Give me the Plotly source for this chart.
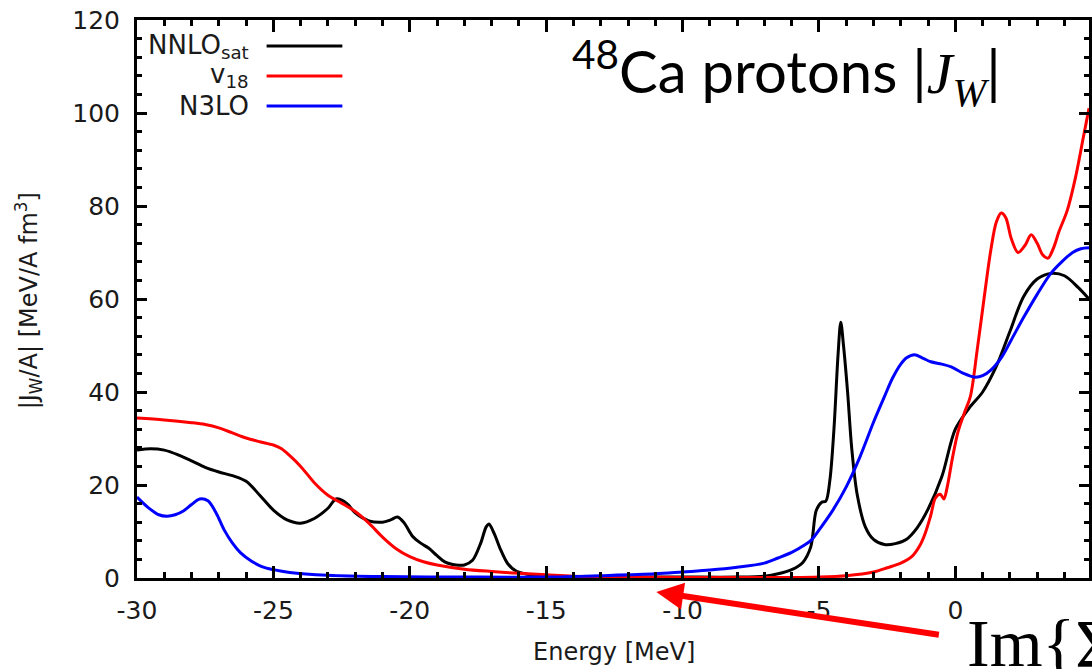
import plotly.graph_objects as go

# ---------------- data ----------------
series_names = ["NNLO<sub>sat</sub>", "v<sub>18</sub>", "N3LO"]
series_colors = ["#000000", "#ff0000", "#0000ff"]

nnlo_x = [-30, -29.5, -29, -28.5, -28, -27.5, -27, -26.5, -26, -25.5, -25, -24.5, -24,
          -23.5, -23, -22.7, -22.3, -22, -21.5, -21, -20.7, -20.45, -20.2, -19.9, -19.6,
          -19.3, -19, -18.7, -18.3, -18, -17.7, -17.4, -17.2, -17.1, -16.9, -16.7, -16.4,
          -16.1, -15.7, -15, -14, -12, -10, -8, -7, -6.5, -6, -5.6, -5.3, -5.1, -4.9,
          -4.75, -4.6, -4.45, -4.3, -4.2, -4.1, -3.95, -3.8, -3.6, -3.3, -3, -2.6, -2.2,
          -1.8, -1.4, -1, -0.5, 0, 0.5, 1, 1.5, 2, 2.5, 3, 3.5, 4, 4.5, 4.9]
nnlo_y = [27.5, 27.8, 27.5, 26.5, 25.2, 23.8, 22.8, 22.0, 20.8, 17.8, 14.6, 12.5, 11.8,
          12.8, 15.0, 17.0, 16.0, 14.0, 12.3, 12.0, 12.5, 13.1, 11.8, 9.0, 7.5,
          6.4, 4.8, 3.4, 2.8, 2.8, 3.8, 7.5, 11.0, 11.6, 9.5, 6.5, 3.0,
          1.5, 0.8, 0.4, 0.3, 0.2, 0.2, 0.2, 0.4, 0.9, 1.8, 3.3, 6.7, 14.5, 16.3,
          16.5, 21.0, 32.0, 48.0, 55.0, 50.0, 40.0, 28.0, 18.0, 11.0, 8.3, 7.2, 7.4,
          8.3, 10.8, 14.8, 21.7, 32.0, 36.5, 40.0, 45.5, 53.0, 60.5, 64.3, 65.5, 65.0, 62.5, 60.0]

v18_x = [-30, -29, -28, -27.5, -27, -26.5, -26, -25.5, -25, -24.7, -24.4, -24, -23.5, -23,
         -22.5, -22, -21.5, -21, -20.5, -20, -19.5, -19, -18, -17, -16, -15, -14, -12, -10,
         -8, -6, -5, -4, -3, -2.5, -2, -1.6, -1.3, -1.1, -0.9, -0.73, -0.55, -0.42, -0.3,
         -0.1, 0.1, 0.33, 0.55, 0.8, 1.05, 1.3, 1.5, 1.68, 1.85, 2.05, 2.3, 2.55, 2.78, 3.0,
         3.2, 3.4, 3.6, 3.8, 4.1, 4.4, 4.7, 4.9]
v18_y = [34.4, 34.0, 33.4, 33.0, 32.3, 31.2, 30.1, 29.3, 28.6, 27.8, 26.3, 24.0, 20.5, 17.8,
         16.1, 14.3, 11.8, 8.8, 6.3, 4.6, 3.5, 2.8, 1.9, 1.4, 1.0, 0.7, 0.4, 0.2, 0.1,
         0.1, 0.1, 0.2, 0.5, 1.3, 2.2, 3.2, 4.6, 7.0, 9.7, 13.5, 17.2, 18.0, 17.0, 19.5,
         26.0, 31.5, 35.5, 39.0, 49.0, 60.0, 70.5, 76.5, 78.5, 77.5, 73.0, 70.0, 71.5, 73.8, 72.0,
         69.5, 68.8, 71.0, 74.5, 79.0, 86.0, 95.0, 101.0]

n3lo_x = [-30, -29.6, -29.2, -28.9, -28.6, -28.3, -28, -27.7, -27.4, -27.1, -26.8, -26.5,
          -26.2, -25.8, -25.4, -25, -24.4, -23, -21, -18, -15, -13, -11, -10, -9, -8, -7,
          -6.5, -6, -5.5, -5.27, -5, -4.5, -4, -3.5, -3, -2.6, -2.3, -2, -1.8, -1.5, -1.2,
          -0.9, -0.5, -0.15, 0.3, 0.7, 1, 1.3, 1.7, 2.05, 2.5, 3, 3.5, 3.9, 4.3, 4.6, 4.9]
n3lo_y = [17.4, 15.2, 13.6, 13.3, 13.6, 14.4, 15.8, 17.0, 16.6, 14.0, 10.3, 7.5,
          5.4, 3.6, 2.4, 1.8, 1.2, 0.6, 0.3, 0.2, 0.2, 0.5, 0.9, 1.3, 1.7, 2.3, 3.2,
          4.3, 5.5, 7.2, 8.2, 10.3, 14.5, 19.6, 26.0, 33.5, 39.0, 43.0, 46.0, 47.3, 48.0, 47.3,
          46.5, 46.0, 45.4, 44.0, 43.2, 43.5, 44.7, 47.5, 51.2, 56.0, 61.0, 65.5, 68.0, 70.0, 70.8, 71.0]

x_tick_vals = [-30, -25, -20, -15, -10, -5, 0, 5]
x_tick_text = ["-30", "-25", "-20", "-15", "-10", "-5", "0", "5"]
y_tick_vals = [0, 20, 40, 60, 80, 100, 120]
y_tick_text = ["0", "20", "40", "60", "80", "100", "120"]

x_title = "Energy [MeV]"
y_title = "|J<sub>W</sub>/A| [MeV/A fm<sup>3</sup>]"
panel_title = ("<sup>48</sup>Ca protons |<span style='font-family:Liberation Serif'>"
               "<i>J<sub>W</sub></i></span>|")
im_label = "Im{Σ}"

# ---------------- figure ----------------
W, H = 1092, 669
L, R, T, B = 137, 0, 20, 91
PW, PH = W - L - R, H - T - B


def px(xp):
    return (xp - L) / PW


def py(yp):
    return (H - B - yp) / PH


fig = go.Figure()
all_x = [nnlo_x, v18_x, n3lo_x]
all_y = [nnlo_y, v18_y, n3lo_y]
for name, col, xs, ys in zip(series_names, series_colors, all_x, all_y):
    fig.add_trace(go.Scatter(x=xs, y=ys, mode="lines", name=name,
                             line=dict(color=col, width=3, shape="spline", smoothing=0.9),
                             showlegend=False))

tickfont = dict(family="DejaVu Sans", size=25, color="#1a1a1a")
axis_common = dict(showline=True, linewidth=3, linecolor="black", mirror="allticks",
                   ticks="inside", tickwidth=3, tickcolor="black", showgrid=False,
                   zeroline=False, tickfont=tickfont)

fig.update_xaxes(range=[-30, 4.9], tickvals=x_tick_vals, ticktext=x_tick_text,
                 ticklen=12, ticklabelstandoff=8,
                 minor=dict(dtick=1, tick0=-30, ticklen=6, tickwidth=3, tickcolor="black",
                            ticks="inside", showgrid=False),
                 **axis_common)
fig.update_yaxes(range=[0, 120], tickvals=y_tick_vals, ticktext=y_tick_text,
                 ticklen=10, ticklabelstandoff=9,
                 minor=dict(dtick=4, tick0=0, ticklen=5, tickwidth=3, tickcolor="black",
                            ticks="inside", showgrid=False),
                 **axis_common)

annotations = []
# axis titles
annotations.append(dict(text=x_title, xref="paper", yref="paper", x=px(616), y=py(652),
                        xanchor="center", yanchor="middle", showarrow=False,
                        font=dict(family="DejaVu Sans", size=24, color="#1a1a1a")))
annotations.append(dict(text=y_title, xref="paper", yref="paper", x=px(29), y=py(301),
                        xanchor="center", yanchor="middle", showarrow=False, textangle=-90,
                        font=dict(family="DejaVu Sans", size=24, color="#1a1a1a")))
# legend (text right-aligned, sample line to the right)
leg_y = [46, 76, 106]
for name, col, yy in zip(series_names, series_colors, leg_y):
    annotations.append(dict(text=name, xref="paper", yref="paper", x=px(251), y=py(yy),
                            xanchor="right", yanchor="middle", showarrow=False,
                            font=dict(family="DejaVu Sans", size=26, color="#1a1a1a")))
    fig.add_shape(type="line", xref="paper", yref="paper", x0=px(267), x1=px(343),
                  y0=py(yy), y1=py(yy), line=dict(color=col, width=3))
# panel title
annotations.append(dict(text=panel_title, xref="paper", yref="paper", x=px(571), y=py(72),
                        xanchor="left", yanchor="middle", showarrow=False,
                        font=dict(family="Lato", size=58, color="black")))
# Im{Σ} label
annotations.append(dict(text=im_label, xref="paper", yref="paper", x=px(968), y=py(643),
                        xanchor="left", yanchor="middle", showarrow=False,
                        font=dict(family="Liberation Serif", size=68, color="black")))
# red arrow
annotations.append(dict(text="", xref="paper", yref="paper", x=px(658), y=py(592),
                        ax=284, ay=43, showarrow=True, arrowhead=2, arrowsize=0.9,
                        arrowwidth=6, arrowcolor="#ff0000", standoff=0))

fig.update_layout(width=W, height=H, autosize=False,
                  margin=dict(l=L, r=R, t=T, b=B, pad=0),
                  paper_bgcolor="white", plot_bgcolor="white",
                  annotations=annotations, showlegend=False)

fig.write_html("out.html")
